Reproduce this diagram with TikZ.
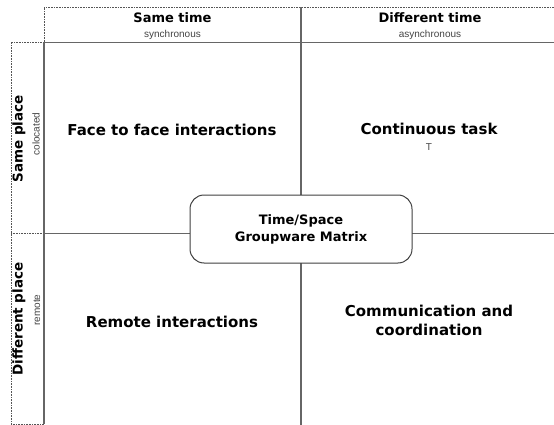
\documentclass[tikz,border=0pt]{standalone}
\usepackage{fontspec}
\setmainfont{DejaVu Sans}
\newfontfamily\subfont{Liberation Sans}
\definecolor{linegray}{HTML}{666666}
\definecolor{subgray}{HTML}{444444}
\definecolor{dotgray}{HTML}{555555}
\begin{document}
\begin{tikzpicture}[x=1pt,y=-1pt,
  solidline/.style={draw=linegray, line width=1.2pt},
  dotline/.style={draw=dotgray, line width=0.6pt, dash pattern=on 0.8pt off 0.8pt},
  mainlabel/.style={font=\bfseries\fontsize{15}{19}\selectfont, align=center, inner sep=0pt},
  headlabel/.style={font=\bfseries\fontsize{13}{15}\selectfont, inner sep=0pt},
  sidelabel/.style={font=\bfseries\fontsize{13.5}{15}\selectfont, inner sep=0pt},
  sublabel/.style={font=\subfont\fontsize{10}{12}\selectfont, text=subgray, inner sep=0pt},
  centerbox/.style={draw=black!75, line width=1pt, fill=white, rounded corners=14pt,
    minimum width=222pt, minimum height=68pt, align=center,
    font=\bfseries\fontsize{13}{17}\selectfont}]
\useasboundingbox (0,0) rectangle (554,425);
% coordinates
\coordinate (hTL) at (44,7.5);
\coordinate (hTR) at (554,7.5);
\coordinate (hBL) at (44,42.5);
\coordinate (hBR) at (554,42.5);
\coordinate (vTop) at (301,7.5);
\coordinate (vBot) at (301,425);
\coordinate (lTL) at (11,42.5);
\coordinate (lBL) at (11,424);
\coordinate (lBR) at (44,424);
\coordinate (lM) at (11,233.5);
\coordinate (mL) at (44,233.5);
\coordinate (mR) at (554,233.5);
% dotted label frames
\draw[dotline] (hTR) -- (hTL) -- (hBL);
\draw[dotline] (lBR) -- (lBL) -- (lTL) -- (hBL);
\draw[dotline] (lM) -- (mL);
% solid matrix lines
\draw[solidline] (hBL) -- (hBR);
\draw[solidline] (hBL) -- (lBR);
\draw[solidline] (vTop) -- (vBot);
\draw[solidline] (mL) -- (mR);
% centre box
\node[centerbox] (box) at (301,229) {Time/Space\\Groupware Matrix};
% header labels
\node[headlabel] (st) at (172.5,18) {Same time};
\node[sublabel] (sync) at (172.5,35) {synchronous};
\node[headlabel] (dt) at (430,18) {Different time};
\node[sublabel] (async) at (430,35) {asynchronous};
% side labels
\node[sidelabel, rotate=90] (sp) at (19,139) {Same place};
\node[sublabel, rotate=90] (coloc) at (36,134) {colocated};
\node[sidelabel, rotate=90] (dp) at (19,319) {Different place};
\node[sublabel, rotate=90] (rem) at (37,310) {remote};
% cell labels
\node[mainlabel] (f2f) at (172,130) {Face to face interactions};
\node[mainlabel] (ct) at (429,129) {Continuous task};
\node[sublabel] (tt) at (429,147) {T};
\node[mainlabel] (ri) at (172,322) {Remote interactions};
\node[mainlabel] (cc) at (429,320) {Communication and\\coordination};
\end{tikzpicture}
\end{document}
